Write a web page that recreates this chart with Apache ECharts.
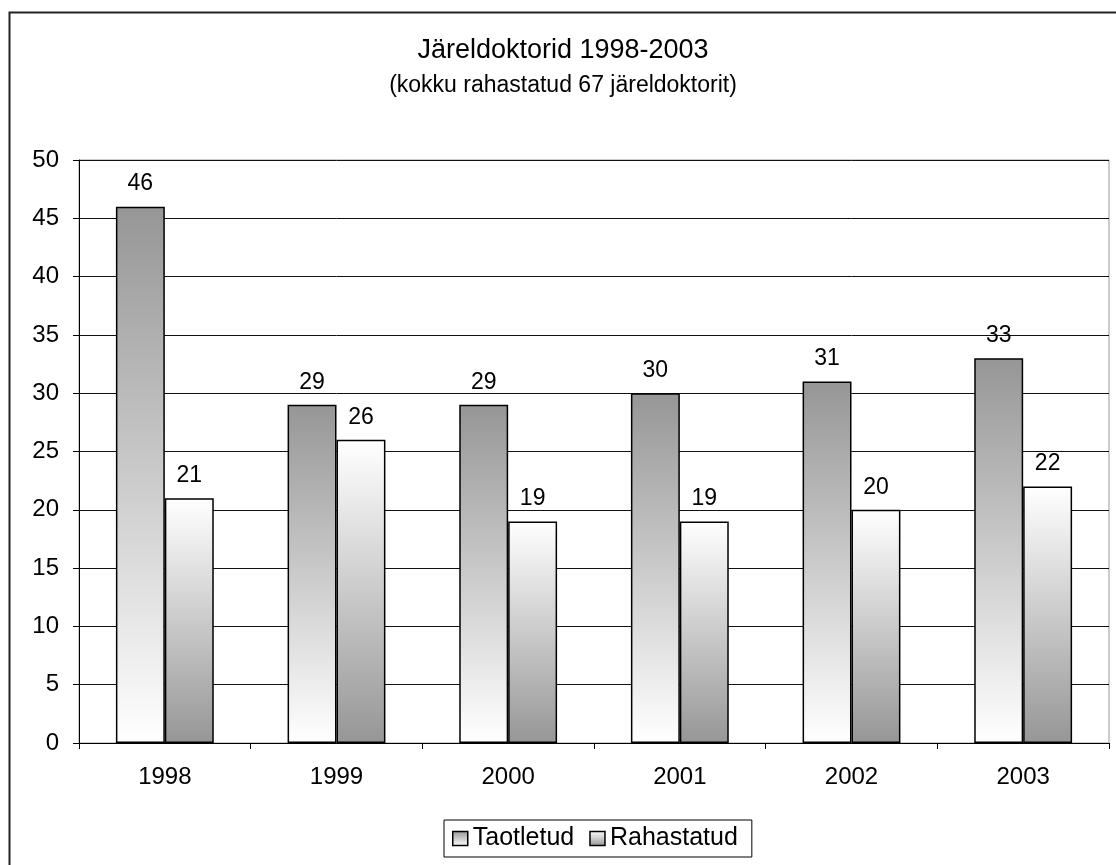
<!DOCTYPE html>
<html>
<head>
<meta charset="utf-8">
<script src="https://cdn.jsdelivr.net/npm/echarts@6/dist/echarts.min.js"></script>
<style>
html,body{margin:0;padding:0;background:#fff;}
#c{width:1116px;height:865px;}
</style>
</head>
<body>
<div id="c"></div>
<script>
const categories = ['1998','1999','2000','2001','2002','2003'];
const taotletud = [46, 29, 29, 30, 31, 33];
const rahastatud = [21, 26, 19, 19, 20, 22];
const yTicks = [0,5,10,15,20,25,30,35,40,45,50];

const font = 'Arial, "Liberation Sans", sans-serif';
const chart = echarts.init(document.getElementById('c'));
const gradDown = new echarts.graphic.LinearGradient(0,0,0,1,[{offset:0,color:'#969696'},{offset:1,color:'#ffffff'}]);
const gradUp = new echarts.graphic.LinearGradient(0,0,0,1,[{offset:0,color:'#ffffff'},{offset:1,color:'#969696'}]);

chart.setOption({
  animation:false,
  backgroundColor:'#fff',
  title:{
    text:'Järeldoktorid 1998-2003',
    subtext:'(kokku rahastatud 67 järeldoktorit)',
    left:558, top:32, textAlign:'center', itemGap:10,
    textStyle:{fontFamily:font,fontSize:27,fontWeight:'normal',color:'#000'},
    subtextStyle:{fontFamily:font,fontSize:23,color:'#000'}
  },
  graphic:[{type:'rect',shape:{x:9.5,y:12.5,width:1300,height:1000},style:{fill:'none',stroke:'#222',lineWidth:2},z:-1}],
  legend:{
    top:820, left:444,
    data:['Taotletud','Rahastatud'],
    icon:'rect', itemWidth:15, itemHeight:14, itemGap:15,
    borderColor:'#000', borderWidth:1, padding:[6,14,6,8],
    textStyle:{fontFamily:font,fontSize:25,color:'#000'},
    itemStyle:{borderColor:'#000',borderWidth:1.5}
  },
  grid:{left:79,right:7,top:160,bottom:122,show:true,borderColor:'#999',borderWidth:1,backgroundColor:'transparent'},
  xAxis:{
    type:'category', data:categories,
    axisLine:{lineStyle:{color:'#000',width:1}},
    axisTick:{show:true,length:6,lineStyle:{color:'#000'}},
    axisLabel:{fontFamily:font,fontSize:24,color:'#000',margin:22},
    splitLine:{show:false}
  },
  yAxis:{
    type:'value', min:yTicks[0], max:yTicks[yTicks.length-1], interval:5,
    axisLine:{show:true,lineStyle:{color:'#000',width:1}},
    axisTick:{show:true,length:6,lineStyle:{color:'#000'}},
    axisLabel:{fontFamily:font,fontSize:24,color:'#000',margin:20},
    splitLine:{show:true,lineStyle:{color:'#111',width:1}}
  },
  series:[
    {name:'Taotletud',type:'bar',data:taotletud,barGap:'0%',barCategoryGap:'43%',
     itemStyle:{color:gradDown,borderColor:'#000',borderWidth:1.5},
     label:{show:true,position:'top',distance:11,fontFamily:font,fontSize:23,color:'#000'}},
    {name:'Rahastatud',type:'bar',data:rahastatud,
     itemStyle:{color:gradUp,borderColor:'#000',borderWidth:1.5},
     label:{show:true,position:'top',distance:11,fontFamily:font,fontSize:23,color:'#000'}}
  ]
});
</script>
</body>
</html>
